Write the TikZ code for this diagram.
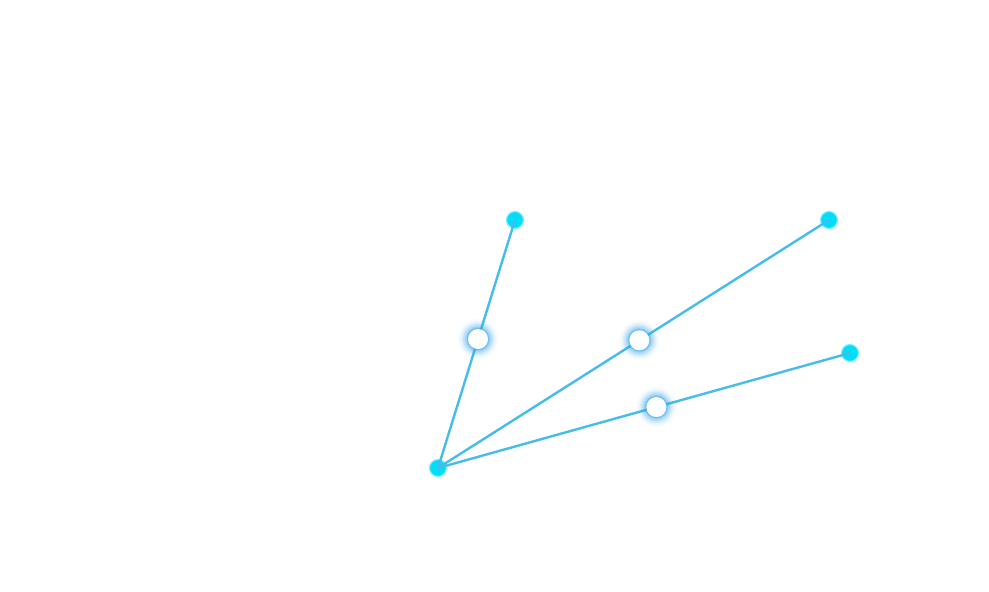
\documentclass[tikz,border=0pt]{standalone}
\usetikzlibrary{calc}
\definecolor{dotcyan}{HTML}{00DDF8}
\definecolor{linkblue}{HTML}{45BDE8}
\definecolor{glowblue}{HTML}{3AA8F0}
\tikzset{
  enddot/.style={circle,fill=dotcyan,minimum size=17pt,inner sep=0pt,draw=dotcyan!50,line width=1.2pt},
  link/.style={draw=linkblue,line width=2.4pt},
  middot/.style={circle,fill=white,minimum size=20pt,inner sep=0pt},
}
\newcommand{\glowat}[1]{%
  \foreach \r/\o in {20/0.04,18/0.06,16.5/0.09,15/0.13,13.5/0.18,12/0.28,11/0.4}{
    \fill[glowblue,opacity=\o] (#1) circle (\r pt);
  }}
\begin{document}
\begin{tikzpicture}[x=1pt,y=-1pt]
\useasboundingbox (0,0) rectangle (989,592);
\fill[white] (0,0) rectangle (989,592);
\coordinate (o) at (438,468);
\coordinate (a) at (515,220);
\coordinate (b) at (829,220);
\coordinate (c) at (850,353);
\node[enddot] (no) at (o) {};
\node[enddot] (na) at (a) {};
\node[enddot] (nb) at (b) {};
\node[enddot] (nc) at (c) {};
\draw[link] (o) -- (a);
\draw[link] (o) -- (b);
\draw[link] (o) -- (c);
\coordinate (ma) at ($(o)!0.52!(a)$);
\coordinate (mb) at ($(o)!0.515!(b)$);
\coordinate (mc) at ($(o)!0.53!(c)$);
\glowat{ma}\glowat{mb}\glowat{mc}
\node[middot] (wa) at (ma) {};
\node[middot] (wb) at (mb) {};
\node[middot] (wc) at (mc) {};
\end{tikzpicture}
\end{document}
